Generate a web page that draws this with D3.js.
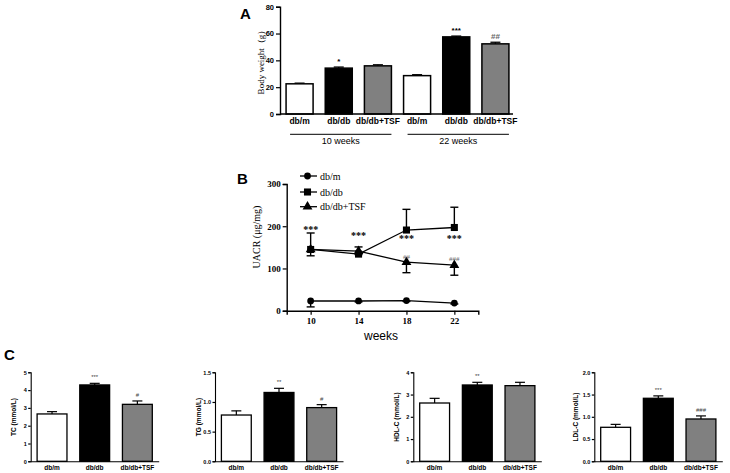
<!DOCTYPE html>
<html><head><meta charset="utf-8">
<script src="https://cdn.jsdelivr.net/npm/d3@7"></script>
<style>body{margin:0;background:#fff}svg{display:block}</style>
</head><body><svg id="c" width="730" height="473"></svg>
<script>
// ---------- data ----------
const groups = ["db/m", "db/db", "db/db+TSF"];
const weekGroups = ["10 weeks", "22 weeks"];
const bodyWeight = [22.5, 34.2, 35.9, 28.6, 57.5, 52.3];
const bodyWeightErr = [0.5, 0.8, 0.8, 0.7, 0.6, 1.2];
const bodyWeightSig = ["", "*", "", "", "***", "##"];
const ticksA = [0, 20, 40, 60, 80];

const weeksB = [10, 14, 18, 22];
const uacrDbm = [23, 23, 24, 18];
const uacrDbmErr = [14, 2, 2, 2];
const uacrDbdb = [145, 134, 191, 197];
const uacrDbdbErr = [39, 17, 49, 48];
const uacrTsf = [145, 141, 115, 108];
const uacrTsfErr = [15, 8, 25, 24];
const sigDbdbB = ["***", "***", "***", "***"];
const sigTsfB = ["", "", "##", "###"];
const ticksB = [0, 100, 200, 300];

const tc = [2.66, 4.29, 3.2], tcErr = [0.13, 0.09, 0.19], tcSig = ["", "***", "#"];
const tg = [0.78, 1.16, 0.905], tgErr = [0.07, 0.07, 0.05], tgSig = ["", "**", "#"];
const hdl = [2.62, 3.43, 3.40], hdlErr = [0.21, 0.12, 0.15], hdlSig = ["", "**", ""];
const ldl = [0.764, 1.416, 0.951], ldlErr = [0.066, 0.054, 0.069], ldlSig = ["", "***", "###"];
const ticksTC = [0, 1, 2, 3, 4, 5], ticksTG = [0, 0.5, 1.0, 1.5], ticksHDL = [0, 1, 2, 3, 4], ticksLDL = [0, 0.5, 1.0, 1.5, 2.0];

const fills = ["#ffffff", "#000000", "#808080"];

// ---------- drawing ----------
const svg = d3.select("#c");
svg.append("rect").attr("width", 730).attr("height", 473).attr("fill", "#fff");
const SANS = "Arial, 'Liberation Sans', sans-serif";
const SERIF = "'Times New Roman', 'Liberation Serif', serif";

function panelLabel(t, x, y) {
  svg.append("text").attr("x", x).attr("y", y).text(t)
    .attr("font-family", SANS).attr("font-weight", "bold").attr("font-size", 15);
}
function styleAxis(g, fontFam, fs, bold) {
  g.select(".domain").attr("stroke", "#000").attr("stroke-width", 1.4);
  g.selectAll(".tick line").attr("stroke", "#000").attr("stroke-width", 1.2);
  g.selectAll(".tick text").attr("font-family", fontFam).attr("font-size", fs)
    .attr("font-weight", bold ? "bold" : "normal").attr("fill", "#000");
}

// ===== Panel A =====
panelLabel("A", 240, 19);
const xA = d3.scaleBand().domain(d3.range(bodyWeight.length)).range([280, 515])
  .paddingInner(0.31).paddingOuter(0.155);
const yA = d3.scaleLinear().domain([0, 80]).range([114, 6.7]);
const gA = svg.append("g");
gA.selectAll("line.err").data(bodyWeight).join("line")
  .attr("x1", (d, i) => xA(i) + xA.bandwidth() / 2).attr("x2", (d, i) => xA(i) + xA.bandwidth() / 2)
  .attr("y1", d => yA(d)).attr("y2", (d, i) => yA(d + bodyWeightErr[i]))
  .attr("stroke", "#000").attr("stroke-width", 1.3);
gA.selectAll("line.cap").data(bodyWeight).join("line")
  .attr("x1", (d, i) => xA(i) + xA.bandwidth() / 2 - 5).attr("x2", (d, i) => xA(i) + xA.bandwidth() / 2 + 5)
  .attr("y1", (d, i) => yA(d + bodyWeightErr[i])).attr("y2", (d, i) => yA(d + bodyWeightErr[i]))
  .attr("stroke", "#000").attr("stroke-width", 1.3);
gA.selectAll("rect").data(bodyWeight).join("rect")
  .attr("x", (d, i) => xA(i)).attr("width", xA.bandwidth())
  .attr("y", d => yA(d)).attr("height", d => yA(0) - yA(d))
  .attr("fill", (d, i) => fills[i % 3]).attr("stroke", "#000").attr("stroke-width", 1.5);
gA.selectAll("text.sig").data(bodyWeightSig).join("text")
  .attr("x", (d, i) => xA(i) + xA.bandwidth() / 2)
  .attr("y", (d, i) => yA(bodyWeight[i] + bodyWeightErr[i]) - 3)
  .attr("text-anchor", "middle").attr("font-family", SANS).attr("font-size", 8)
  .attr("font-weight", "bold").attr("fill", (d, i) => i === 5 ? "#666" : "#000").text(d => d);
const axA = svg.append("g").attr("transform", "translate(280,0)")
  .call(d3.axisLeft(yA).tickValues(ticksA).tickSize(4).tickPadding(2));
styleAxis(axA, SANS, 7.5, true);
const axAx = svg.append("g").attr("transform", "translate(0,114)")
  .call(d3.axisBottom(xA).tickFormat(i => groups[i % 3]).tickSize(0).tickPadding(4));
axAx.select(".domain").attr("d", "M280,0H513").attr("stroke", "#000").attr("stroke-width", 1.4);
axAx.selectAll(".tick text").attr("font-family", SANS).attr("font-size", 8.5).attr("font-weight", "bold").attr("fill", "#000");
weekGroups.forEach((w, k) => {
  const a = xA(k * 3) + 4, b = xA(k * 3 + 2) + xA.bandwidth();
  svg.append("line").attr("x1", a).attr("x2", b).attr("y1", 134.3).attr("y2", 134.3)
    .attr("stroke", "#000").attr("stroke-width", 1);
  svg.append("text").attr("x", (a + b) / 2).attr("y", 144)
    .attr("text-anchor", "middle").attr("font-family", SANS).attr("font-size", 9).text(w);
});
svg.append("text").attr("transform", "translate(264,60) rotate(-90)")
  .attr("text-anchor", "middle").attr("font-family", SERIF).attr("font-size", 9)
  .text("Body weight（g）");

// ===== Panel B =====
panelLabel("B", 237, 184);
const xB = d3.scaleLinear().domain([8, 24]).range([286.7, 478.3]);
const yB = d3.scaleLinear().domain([0, 300]).range([310.7, 184]);
const axBy = svg.append("g").attr("transform", "translate(286.7,0)")
  .call(d3.axisLeft(yB).tickValues(ticksB).tickSize(4).tickPadding(2));
styleAxis(axBy, SERIF, 9, true);
const axBx = svg.append("g").attr("transform", "translate(0,310.7)")
  .call(d3.axisBottom(xB).tickValues(weeksB).tickSize(4).tickPadding(3));
styleAxis(axBx, SERIF, 9, true);
svg.append("text").attr("x", 381).attr("y", 340).attr("text-anchor", "middle")
  .attr("font-family", SANS).attr("font-size", 12).text("weeks");
svg.append("text").attr("transform", "translate(260,237) rotate(-90)")
  .attr("text-anchor", "middle").attr("font-family", SERIF).attr("font-size", 10)
  .text("UACR (μg/mg)");

const seriesB = [
  { vals: uacrDbm, err: uacrDbmErr, dir: -1, sym: d3.symbolCircle, size: 36, name: groups[0] },
  { vals: uacrDbdb, err: uacrDbdbErr, dir: 1, sym: d3.symbolSquare, size: 50, name: groups[1] },
  { vals: uacrTsf, err: uacrTsfErr, dir: -1, sym: d3.symbolTriangle, size: 42, name: groups[2] }
];
const line = d3.line().x((d, i) => xB(weeksB[i])).y(d => yB(d));
seriesB.forEach(s => {
  const g = svg.append("g");
  g.selectAll("line.e").data(s.vals).join("line")
    .attr("x1", (d, i) => xB(weeksB[i])).attr("x2", (d, i) => xB(weeksB[i]))
    .attr("y1", d => yB(d)).attr("y2", (d, i) => yB(d + s.dir * s.err[i]))
    .attr("stroke", "#000").attr("stroke-width", 1.4);
  g.selectAll("line.c").data(s.vals).join("line")
    .attr("x1", (d, i) => xB(weeksB[i]) - 4).attr("x2", (d, i) => xB(weeksB[i]) + 4)
    .attr("y1", (d, i) => yB(d + s.dir * s.err[i])).attr("y2", (d, i) => yB(d + s.dir * s.err[i]))
    .attr("stroke", "#000").attr("stroke-width", 1.4);
  g.append("path").datum(s.vals).attr("d", line).attr("fill", "none")
    .attr("stroke", "#000").attr("stroke-width", 1.3);
  g.selectAll("path.m").data(s.vals).join("path")
    .attr("transform", (d, i) => `translate(${xB(weeksB[i])},${yB(d)})`)
    .attr("d", d3.symbol(s.sym, s.size)).attr("fill", "#000");
});
// significance marks panel B
const sigAnchor = [195, 181, 175, 175];
const sigAnchorT = [0, 0, 129.5, 124];
svg.selectAll("text.sb").data(sigDbdbB).join("text")
  .attr("x", (d, i) => xB(weeksB[i])).attr("y", (d, i) => yB(sigAnchor[i]) + 5)
  .attr("text-anchor", "middle").attr("font-family", SERIF).attr("font-weight", "bold")
  .attr("font-size", 10).text(d => d);
svg.selectAll("text.st").data(sigTsfB).join("text")
  .attr("x", (d, i) => xB(weeksB[i])).attr("y", (d, i) => yB(sigAnchorT[i]) + 3)
  .attr("text-anchor", "middle").attr("font-family", SERIF).attr("font-size", 7)
  .attr("fill", "#666").text(d => d);
// legend
seriesB.forEach((s, k) => {
  const ly = [176, 192, 206.7][k];
  svg.append("line").attr("x1", 300).attr("x2", 317).attr("y1", ly).attr("y2", ly)
    .attr("stroke", "#000").attr("stroke-width", 1.3);
  svg.append("path").attr("transform", `translate(307.5,${ly})`)
    .attr("d", d3.symbol(s.sym, s.size)).attr("fill", "#000");
  svg.append("text").attr("x", 320).attr("y", ly + 3.5).attr("font-family", SERIF)
    .attr("font-size", 10).text(s.name);
});

// ===== Panel C =====
panelLabel("C", 4, 360);
const panelsC = [
  { x0: 30.7, vals: tc, err: tcErr, sig: tcSig, max: 5, ticks: ticksTC, fmt: d3.format("d"), label: "TC (mmol/L)", lx: 16 },
  { x0: 215, vals: tg, err: tgErr, sig: tgSig, max: 1.5, ticks: ticksTG, fmt: d3.format(".1f"), label: "TG (mmol/L)", lx: 200.5 },
  { x0: 413.3, vals: hdl, err: hdlErr, sig: hdlSig, max: 4, ticks: ticksHDL, fmt: d3.format("d"), label: "HDL-C (mmol/L)", lx: 399 },
  { x0: 594.3, vals: ldl, err: ldlErr, sig: ldlSig, max: 2, ticks: ticksLDL, fmt: d3.format(".1f"), label: "LDL-C (mmol/L)", lx: 578 }
];
panelsC.forEach(p => {
  const x = d3.scaleBand().domain(groups).range([p.x0, p.x0 + 128]).paddingInner(0.3).paddingOuter(0.15);
  const y = d3.scaleLinear().domain([0, p.max]).range([461.3, 372.3]);
  const g = svg.append("g");
  const cx = i => x(groups[i]) + x.bandwidth() / 2;
  g.selectAll("line.e").data(p.vals).join("line")
    .attr("x1", (d, i) => cx(i)).attr("x2", (d, i) => cx(i))
    .attr("y1", d => y(d)).attr("y2", (d, i) => y(d + p.err[i]))
    .attr("stroke", "#000").attr("stroke-width", 1.2);
  g.selectAll("line.c").data(p.vals).join("line")
    .attr("x1", (d, i) => cx(i) - 5).attr("x2", (d, i) => cx(i) + 5)
    .attr("y1", (d, i) => y(d + p.err[i])).attr("y2", (d, i) => y(d + p.err[i]))
    .attr("stroke", "#000").attr("stroke-width", 1.2);
  g.selectAll("rect").data(p.vals).join("rect")
    .attr("x", (d, i) => x(groups[i])).attr("width", x.bandwidth())
    .attr("y", d => y(d)).attr("height", d => y(0) - y(d))
    .attr("fill", (d, i) => fills[i]).attr("stroke", "#000").attr("stroke-width", 1.3);
  g.selectAll("text.s").data(p.sig).join("text")
    .attr("x", (d, i) => cx(i)).attr("y", (d, i) => y(p.vals[i] + p.err[i]) - 4)
    .attr("text-anchor", "middle").attr("font-family", SANS).attr("font-size", 6)
    .attr("fill", "#444").text(d => d);
  const ay = svg.append("g").attr("transform", `translate(${p.x0},0)`)
    .call(d3.axisLeft(y).tickValues(p.ticks).tickFormat(p.fmt).tickSize(2.5).tickPadding(1.5));
  styleAxis(ay, SANS, 5.5, true);
  ay.select(".domain").attr("stroke-width", 1.1);
  const ax = svg.append("g").attr("transform", "translate(0,461.3)")
    .call(d3.axisBottom(x).tickSize(0).tickPadding(4));
  ax.select(".domain").attr("stroke", "#000").attr("stroke-width", 1.1);
  ax.selectAll(".tick text").attr("font-family", SANS).attr("font-size", 6.5)
    .attr("font-weight", "bold").attr("fill", "#000");
  svg.append("text").attr("transform", `translate(${p.lx},417) rotate(-90)`)
    .attr("text-anchor", "middle").attr("font-family", SANS).attr("font-weight", "bold")
    .attr("font-size", 6.5).attr("fill", "#000").text(p.label);
});
</script></body></html>
